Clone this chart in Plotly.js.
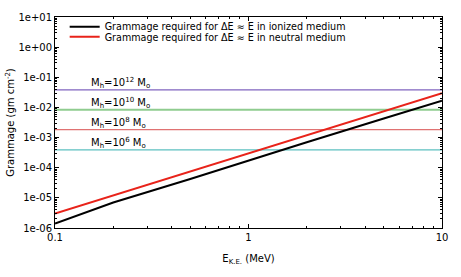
<!DOCTYPE html>
<html>
<head>
<meta charset="utf-8">
<script src="https://cdn.plot.ly/plotly-3.0.1.min.js"></script>
<style>html,body{margin:0;padding:0;background:#fff;}#chart{width:461px;height:277px;}</style>
</head>
<body>
<div id="chart"></div>
<script>
// Data
const energy = [0.1, 0.2, 0.5, 1, 2, 5, 10];
const ionized = [1.4e-6, 7.0e-6, 4.2e-5, 1.75e-4, 7.0e-4, 4.3e-3, 1.66e-2];
const neutral = [3.0e-6, 1.2e-5, 7.5e-5, 3.1e-4, 1.22e-3, 7.6e-3, 2.95e-2];
const haloLabels = ["M<sub>h</sub>=10<sup>12</sup> M<sub>o</sub>", "M<sub>h</sub>=10<sup>10</sup> M<sub>o</sub>", "M<sub>h</sub>=10<sup>8</sup> M<sub>o</sub>", "M<sub>h</sub>=10<sup>6</sup> M<sub>o</sub>"];
const haloValues = [3.8e-2, 8.4e-3, 1.84e-3, 3.9e-4];
const haloColors = ["#8064bf", "#8fcc8f", "#e07272", "#5cc0c0"];
const haloWidths = [1.2, 1.9, 1.2, 1.2];
const xRange = [0.1, 10];
const yTickVals = [1e1, 1e0, 1e-1, 1e-2, 1e-3, 1e-4, 1e-5, 1e-6];
const yTickText = ["1e+01", "1e+00", "1e-01", "1e-02", "1e-03", "1e-04", "1e-05", "1e-06"];
const xTickVals = [0.1, 1, 10];
const xTickText = ["0.1", "1", "10"];

function minorVals(lo, hi) {
  const v = [];
  for (let d = lo; d < hi; d++) for (let k = 2; k <= 9; k++) v.push(k * Math.pow(10, d));
  return v;
}

const traces = [];
haloValues.forEach((v, i) => {
  traces.push({x: xRange, y: [v, v], mode: 'lines', showlegend: false, hoverinfo: 'skip',
    line: {color: haloColors[i], width: haloWidths[i]}});
});
traces.push({x: energy, y: ionized, mode: 'lines', name: 'Grammage required for ΔE ≈ E in ionized medium', line: {color: '#000000', width: 2}, legend: 'legend'});
traces.push({x: energy, y: neutral, mode: 'lines', name: 'Grammage required for ΔE ≈ E in neutral medium', line: {color: '#e8231a', width: 2}, legend: 'legend2'});

const annotations = haloLabels.map((t, i) => ({
  x: Math.log10(0.15), y: Math.log10(haloValues[i]), xref: 'x', yref: 'y',
  text: t, showarrow: false, xanchor: 'left', yanchor: 'bottom', yshift: -2,
  font: {family: 'DejaVu Sans', size: 10, color: '#000'}
}));

const axisCommon = {
  type: 'log', showgrid: false, zeroline: false, showline: true, linecolor: '#000', linewidth: 1,
  mirror: 'allticks', ticks: 'inside', ticklen: 4, tickcolor: '#000', tickmode: 'array',
  tickfont: {family: 'DejaVu Sans', size: 10, color: '#000'}
};

const legendCommon = {xanchor: 'left', yanchor: 'top', bgcolor: 'rgba(0,0,0,0)',
  font: {family: 'DejaVu Sans', size: 9.6, color: '#000'}, itemwidth: 30};

const layout = {
  width: 461, height: 277,
  margin: {l: 55, r: 19, t: 13, b: 49},
  paper_bgcolor: '#fff', plot_bgcolor: '#fff',
  font: {family: 'DejaVu Sans', size: 10, color: '#000'},
  xaxis: Object.assign({}, axisCommon, {
    range: [-1, 1], tickvals: xTickVals, ticktext: xTickText,
    minor: {tickmode: 'array', tickvals: minorVals(-1, 1), ticks: 'inside', ticklen: 2, tickcolor: '#000'},
    title: {text: 'E<sub>K.E.</sub> (MeV)', font: {family: 'DejaVu Sans', size: 10}, standoff: 12}
  }),
  yaxis: Object.assign({}, axisCommon, {
    range: [-6, 1], tickvals: yTickVals, ticktext: yTickText,
    minor: {tickmode: 'array', tickvals: minorVals(-6, 1), ticks: 'inside', ticklen: 2, tickcolor: '#000'},
    title: {text: 'Grammage (gm cm<sup>-2</sup>)', font: {family: 'DejaVu Sans', size: 10}, standoff: 1}
  }),
  legend: Object.assign({}, legendCommon, {x: 0.025, y: 1.023}),
  legend2: Object.assign({}, legendCommon, {x: 0.025, y: 0.975}),
  annotations: annotations,
  showlegend: true
};

Plotly.newPlot('chart', traces, layout, {displayModeBar: false, staticPlot: true});
</script>
</body>
</html>
